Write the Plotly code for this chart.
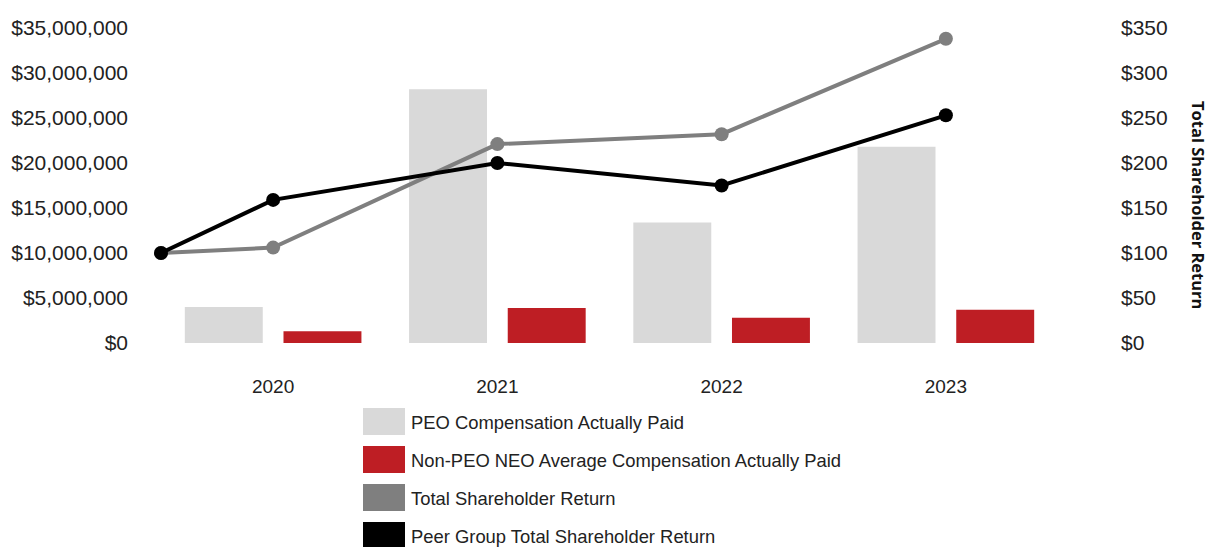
import plotly.graph_objects as go

# ---------------- data ----------------
years = ["2020", "2021", "2022", "2023"]
peo_cap = [4.0e6, 28.2e6, 13.4e6, 21.8e6]
non_peo_cap = [1.3e6, 3.9e6, 2.8e6, 3.7e6]
tsr_base = 100
tsr = [106, 221, 232, 338]
peer_base = 100
peer_tsr = [159, 200, 175, 253]

series_names = [
    "PEO Compensation Actually Paid",
    "Non-PEO NEO Average Compensation Actually Paid",
    "Total Shareholder Return",
    "Peer Group Total Shareholder Return",
]
colors = ["#D9D9D9", "#BE1E24", "#7F7F7F", "#000000"]

# ---------------- layout geometry ----------------
W, H = 1211, 547
L, R, T, B = 161, 153, 28, 204
PW, PH = W - L - R, H - T - B

def px_x(px):
    return (px - L) / PW

def px_y(py):
    return (H - B - py) / PH

idx = list(range(len(years)))
line_x = [-0.5] + idx  # base point sits at the left edge of the plot

fig = go.Figure()
fig.add_trace(go.Bar(x=idx, y=peo_cap, name=series_names[0],
                     marker=dict(color=colors[0], line=dict(width=0))))
fig.add_trace(go.Bar(x=idx, y=non_peo_cap, name=series_names[1],
                     marker=dict(color=colors[1], line=dict(width=0))))
fig.add_trace(go.Scatter(x=line_x, y=[tsr_base] + tsr, name=series_names[2],
                         yaxis="y2", mode="lines+markers", cliponaxis=False,
                         line=dict(color=colors[2], width=4),
                         marker=dict(color=colors[2], size=14)))
fig.add_trace(go.Scatter(x=line_x, y=[peer_base] + peer_tsr, name=series_names[3],
                         yaxis="y2", mode="lines+markers", cliponaxis=False,
                         line=dict(color=colors[3], width=4),
                         marker=dict(color=colors[3], size=14)))

font_fam = "Liberation Sans, Arial, sans-serif"

fig.update_layout(
    width=W, height=H,
    margin=dict(l=L, r=R, t=T, b=B),
    paper_bgcolor="white", plot_bgcolor="white",
    showlegend=False,
    barmode="group", bargap=0.12, bargroupgap=0.21,
    font=dict(family=font_fam, color="#222222"),
    xaxis=dict(range=[-0.5, 3.5], tickvals=idx, ticktext=years,
               showgrid=False, zeroline=False, showline=False, ticks="",
               tickfont=dict(size=19, color="#222222"), ticklabelstandoff=30),
    yaxis=dict(range=[0, 35e6], dtick=5e6, tickformat=",.0f", tickprefix="$",
               showgrid=False, zeroline=False, showline=False, ticks="",
               tickfont=dict(size=21, color="#222222"), ticklabelstandoff=32),
    yaxis2=dict(range=[0, 350], dtick=50, tickprefix="$", overlaying="y", side="right",
                showgrid=False, zeroline=False, showline=False, ticks="",
                tickfont=dict(size=21, color="#222222"), ticklabelstandoff=62),
)

# right axis title (reads top to bottom)
fig.add_annotation(x=px_x(1199), y=px_y(205), xref="paper", yref="paper",
                   text="<b>Total Shareholder Return</b>", textangle=90, showarrow=False,
                   font=dict(family="Open Sans, sans-serif", size=16.5, color="#111111"),
                   xanchor="center", yanchor="middle")

# custom legend with large square swatches
row_tops = [408, 446, 484, 522]
for name, col, top in zip(series_names, colors, row_tops):
    fig.add_shape(type="rect", xref="paper", yref="paper",
                  x0=px_x(363), x1=px_x(405), y0=px_y(top), y1=px_y(top + 27),
                  fillcolor=col, line=dict(width=0), layer="above")
    fig.add_annotation(x=px_x(409), y=px_y(top + 14), xref="paper", yref="paper",
                       text=name, showarrow=False, xanchor="left", yanchor="middle",
                       font=dict(family=font_fam, size=18.4, color="#222222"))

fig.write_html("out.html", post_script="document.body.style.margin='0';",
               config={"displayModeBar": False})
